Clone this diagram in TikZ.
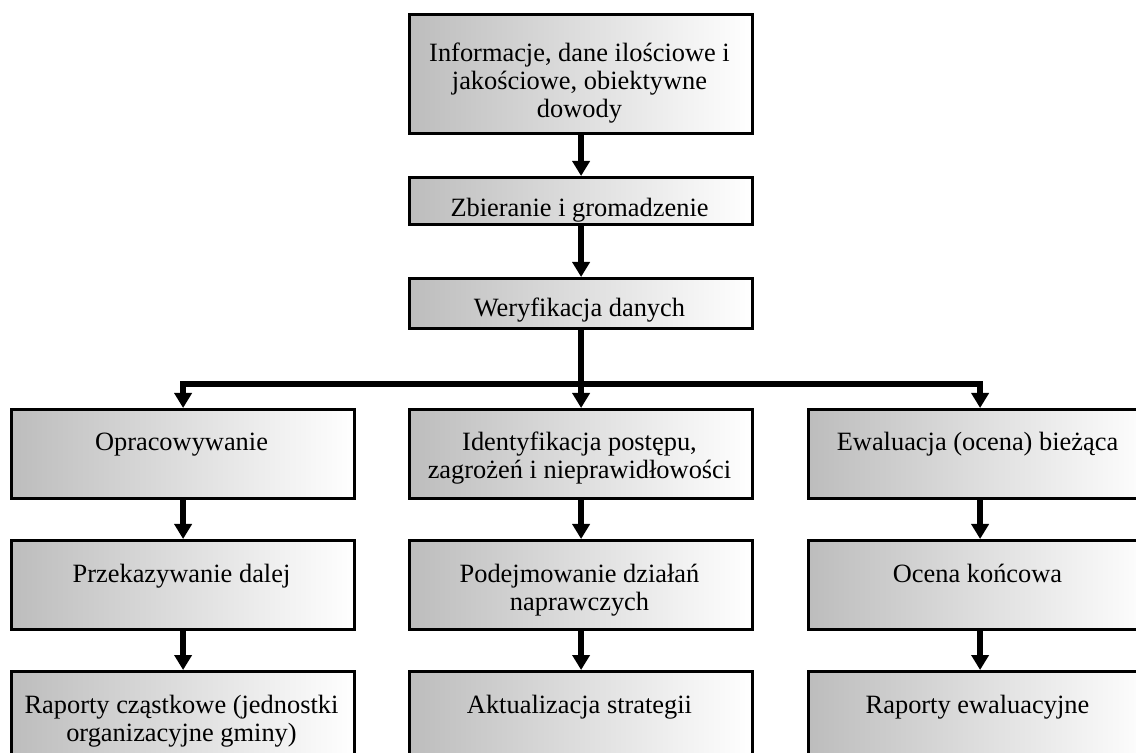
\documentclass[tikz,border=0pt]{standalone}
\usepackage{fontspec}
\setmainfont{Liberation Serif}
\usetikzlibrary{arrows.meta}
\newcommand{\mlines}[1]{\begin{tabular}[t]{@{}c@{}}#1\end{tabular}}
\begin{document}
\begin{tikzpicture}[x=0.5pt,y=-0.5pt,
  boxnode/.style={draw=black, line width=1.6pt, rectangle, inner sep=0pt,
    left color=black!26, right color=white, anchor=north west, minimum width=171.5pt},
  txt/.style={anchor=base, inner sep=0pt, font=\fontsize{13.2}{14}\selectfont},
  conn/.style={line width=2.8pt, -{Triangle[width=8.5pt,length=7.5pt]}}]
\useasboundingbox (0,0) rectangle (1136,753);
\clip (0,0) rectangle (1136,753);
% top chain
\node[boxnode, minimum height=59.5pt] (b1) at (408,13) {};
\node[boxnode, minimum height=23.5pt] (b2) at (408,176) {};
\node[boxnode, minimum height=25pt] (b3) at (408,277) {};
% row 1
\node[boxnode, minimum height=44.5pt] (l1) at (10,408) {};
\node[boxnode, minimum height=44.5pt] (m1) at (408,408) {};
\node[boxnode, minimum height=44.5pt] (r1) at (807,408) {};
% row 2
\node[boxnode, minimum height=44.5pt] (l2) at (10,539) {};
\node[boxnode, minimum height=44.5pt] (m2) at (408,539) {};
\node[boxnode, minimum height=44.5pt] (r2) at (807,539) {};
% row 3
\node[boxnode, minimum height=45pt] (l3) at (10,670) {};
\node[boxnode, minimum height=45pt] (m3) at (408,670) {};
\node[boxnode, minimum height=45pt] (r3) at (807,670) {};
% texts
\node[txt] (t1) at (579.5,62) {\mlines{Informacje, dane ilościowe i\\jakościowe, obiektywne\\dowody}};
\node[txt] (t2) at (579.5,217) {Zbieranie i gromadzenie};
\node[txt] (t3) at (579.5,317) {Weryfikacja danych};
\node[txt] (tl1) at (181.5,451) {Opracowywanie};
\node[txt] (tm1) at (579.5,451) {\mlines{Identyfikacja postępu,\\zagrożeń i nieprawidłowości}};
\node[txt] (tr1) at (977.5,451) {Ewaluacja (ocena) bieżąca};
\node[txt] (tl2) at (181.5,582) {Przekazywanie dalej};
\node[txt] (tm2) at (579.5,582) {\mlines{Podejmowanie działań\\naprawczych}};
\node[txt] (tr2) at (977.5,582) {Ocena końcowa};
\node[txt] (tl3) at (181.5,713) {\mlines{Raporty cząstkowe (jednostki\\organizacyjne gminy)}};
\node[txt] (tm3) at (579.5,713) {Aktualizacja strategii};
\node[txt] (tr3) at (977.5,713) {Raporty ewaluacyjne};
% connectors
\draw[conn] (b1.south) -- (b2.north);
\draw[conn] (b2.south) -- (b3.north);
\draw[conn] (b3.south) -- (m1.north);
\coordinate (j) at (579.5,384);
\draw[conn] (j) -| (l1.north);
\draw[conn] (j) -| (r1.north);
\draw[conn] (l1.south) -- (l2.north);
\draw[conn] (m1.south) -- (m2.north);
\draw[conn] (r1.south) -- (r2.north);
\draw[conn] (l2.south) -- (l3.north);
\draw[conn] (m2.south) -- (m3.north);
\draw[conn] (r2.south) -- (r3.north);
\end{tikzpicture}
\end{document}
